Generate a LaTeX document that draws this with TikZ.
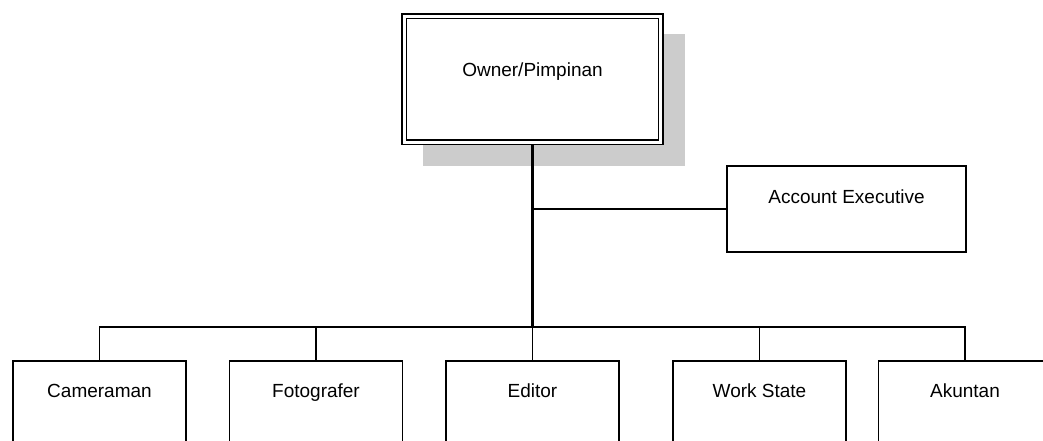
\documentclass[tikz,border=0pt]{standalone}
\usepackage{fontspec}
\setmainfont{Liberation Sans}
\usetikzlibrary{backgrounds}
\begin{document}
\begin{tikzpicture}[x=1pt,y=-1pt,
  thinline/.style={line width=1.5pt},
  trunkline/.style={line width=3pt},
  boxbase/.style={draw, line width=1.5pt, fill=white, inner sep=0pt,
    anchor=north, font=\fontsize{19}{23}\selectfont},
  unitbox/.style={boxbase, minimum width=173pt, text height=37pt, text depth=63pt},
]
\useasboundingbox (0,0) rectangle (1043,441);
\clip (0,0) rectangle (1043,441);

% head of the organisation, double frame
\node[boxbase, double, double distance=3pt, line width=1.4pt,
      minimum width=256.5pt, text height=60.5pt, text depth=65.5pt]
  (owner) at (532.5,15.5) {Owner/Pimpinan};

% staff position beside the trunk
\node[boxbase, minimum width=239pt, text height=38pt, text depth=48pt]
  (ae) at (846.5,165) {Account Executive};

% row of units
\node[unitbox] (cam)  at (99.5,360)  {Cameraman};
\node[unitbox] (foto) at (316,360)   {Fotografer};
\node[unitbox] (edit) at (532.5,360) {Editor};
\node[unitbox] (work) at (759.5,360) {Work State};
\node[unitbox] (akun) at (965,360)   {Akuntan};

\coordinate (bus) at (532.5,327);

\begin{scope}[on background layer]
  % shadow of the head box
  \fill[gray!40] (423,34) rectangle (685,166);
  % trunk and branches
  \draw[trunkline] (owner.south) -- (bus);
  \draw[thinline] (ae.west) -- (ae.west -| bus);
  \draw[thinline] (cam.north) |- (bus) -| (akun.north);
  \draw[thinline] (foto.north) -- (foto.north |- bus);
  \draw[thinline] (edit.north) -- (bus);
  \draw[thinline] (work.north) -- (work.north |- bus);
\end{scope}
\end{tikzpicture}
\end{document}
